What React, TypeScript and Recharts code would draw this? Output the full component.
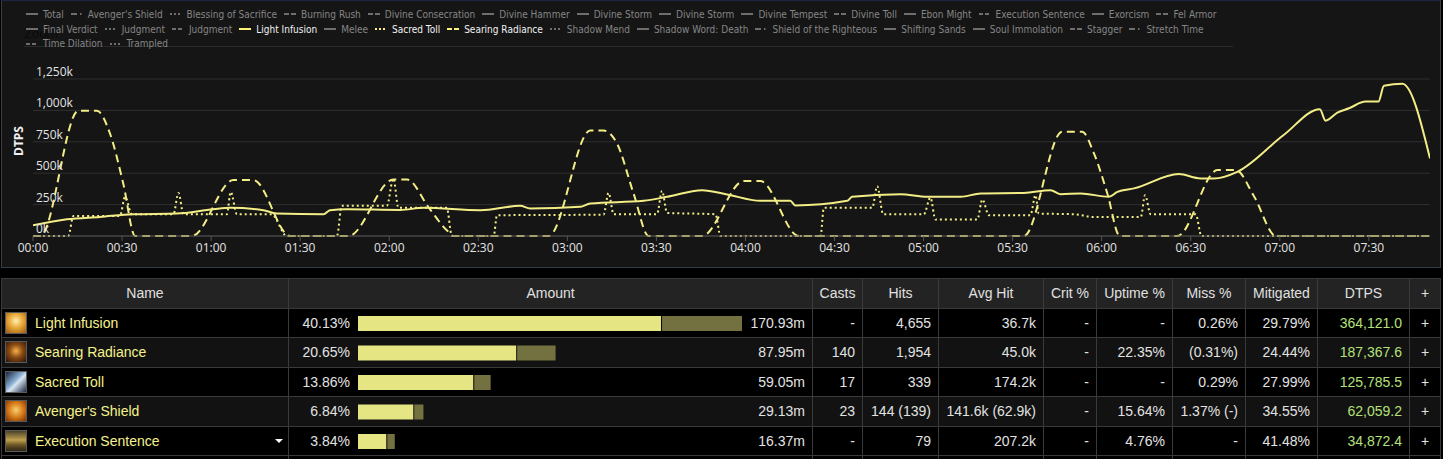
import React from "react";
import { LineChart, Line, XAxis, YAxis, CartesianGrid, BarChart, Bar } from "recharts";

type Pt = [number, number];

// time (s), DTPS (k)
const lightInfusion: Pt[] = [
  [0, 85], [11.4, 133], [22.6, 152], [33.7, 173], [48.4, 179], [60.7, 213], [66.4, 224],
  [77.6, 205], [82, 179], [97.9, 173], [100, 205], [105.7, 213], [123.7, 208], [131.6, 224],
  [150.7, 205], [164.1, 240], [167.5, 219], [184.4, 232], [187.7, 259], [205.7, 280],
  [213.6, 312], [225.4, 365], [233.8, 331], [245, 280], [255.1, 280], [256.8, 243],
  [274.3, 280], [275.9, 312], [292.2, 333], [301.2, 312], [312.5, 312], [319.2, 339],
  [333.8, 343], [342.8, 365], [346.1, 333], [352.9, 339], [362.4, 312], [365.3, 351],
  [370.9, 379], [386, 493], [393.3, 458], [397.8, 458], [405.7, 511], [421.3, 804],
  [433.5, 1010], [435.4, 918], [439.4, 982], [443.3, 1017], [448.9, 1070], [453.2, 1070],
  [455.1, 1196], [461.3, 1212], [470.6, 618],
];

const searingRadiance: Pt[] = [
  [0, 0], [2.5, 0], [15.3, 998], [21.5, 998], [25.9, 818], [30.4, 418], [34.4, 0],
  [53.5, 0], [67.5, 445], [74.3, 445], [86.6, 0],
  [106.3, 0], [121.4, 450], [126, 450], [133.5, 220], [139.4, 45], [141.7, 0],
  [173.7, 0], [187.7, 839], [192.2, 839], [196.7, 738], [202.3, 339], [207.4, 0],
  [225.4, 0], [239.4, 437], [245, 437], [258, 0],
  [333.8, 0], [346.7, 831], [353.4, 831], [357.4, 658], [361.9, 339], [366.1, 0],
  [385.5, 0], [399, 525], [405.2, 525], [411.4, 312], [418.7, 0], [470.6, 0],
];

const sacredToll: Pt[] = [
  [0, 0], [11.9, 0], [13.6, 160], [29.3, 160], [31, 312], [33.3, 173], [47.3, 173],
  [49, 343], [50.7, 173], [65.3, 173], [66.6, 351], [68.7, 173], [80.4, 173], [85.5, 0],
  [102.4, 0], [104, 240], [119.2, 240], [121.4, 458], [123.1, 224], [139.4, 224], [141.1, 0],
  [155.2, 0], [156.3, 165], [192.2, 170], [193.9, 343], [195.6, 173], [210.2, 173],
  [211.9, 359], [213.6, 184], [229.9, 173], [231.6, 0], [265.3, 0], [266.4, 224],
  [282.7, 224], [284.4, 397], [286.4, 173], [300.1, 173], [302.3, 306], [304, 131],
  [318.1, 131], [319.8, 291], [322, 165], [336, 165], [337.7, 325], [338.8, 179],
  [351, 173], [356.9, 152], [373.2, 152], [374.6, 325], [376.5, 173], [391.7, 173],
  [393.6, 0], [470.6, 0],
];

const fightEnd = 470.6;
const timeTicks = [0, 30, 60, 90, 120, 150, 180, 210, 240, 270, 300, 330, 360, 390, 420, 450];
const dtpsTicks = [0, 250, 500, 750, 1000, 1250];

// legend: [name, line style, shown]
const legendRow1: [string, string, boolean][] = [
  ["Total", "solid", false], ["Avenger's Shield", "dashdot", false],
  ["Blessing of Sacrifice", "dot", false], ["Burning Rush", "dash", false],
  ["Divine Consecration", "dash", false], ["Divine Hammer", "solid", false],
  ["Divine Storm", "solid", false], ["Divine Storm", "solid", false],
  ["Divine Tempest", "solid", false], ["Divine Toll", "dash", false],
  ["Ebon Might", "solid", false], ["Execution Sentence", "dashdotdot", false],
  ["Exorcism", "solid", false], ["Fel Armor", "dash", false],
];
const legendRow2: [string, string, boolean][] = [
  ["Final Verdict", "solid", false], ["Judgment", "dot", false],
  ["Judgment", "dashdotdot", false], ["Light Infusion", "solid", true],
  ["Melee", "solid", false], ["Sacred Toll", "dot", true],
  ["Searing Radiance", "dash", true], ["Shadow Mend", "dot", false],
  ["Shadow Word: Death", "solid", false], ["Shield of the Righteous", "dashdot", false],
  ["Shifting Sands", "solid", false], ["Soul Immolation", "solid", false],
  ["Stagger", "dash", false], ["Stretch Time", "dashdot", false],
];
const legendRow3: [string, string, boolean][] = [
  ["Time Dilation", "dashdotdot", false], ["Trampled", "dot", false],
];

// table
const headers = ["Name", "Amount", "Casts", "Hits", "Avg Hit", "Crit %", "Uptime %", "Miss %", "Mitigated", "DTPS", "+"];
const abilityNames = ["Light Infusion", "Searing Radiance", "Sacred Toll", "Avenger's Shield", "Execution Sentence"];
const amountPct = ["40.13%", "20.65%", "13.86%", "6.84%", "3.84%"];
const amountTotal = [170.93, 87.95, 59.05, 29.13, 16.37];
const amountSolid = [134.9, 70.4, 51.3, 24.6, 12.6];
const casts = ["-", "140", "17", "23", "-"];
const hits = ["4,655", "1,954", "339", "144 (139)", "79"];
const avgHit = ["36.7k", "45.0k", "174.2k", "141.6k (62.9k)", "207.2k"];
const critPct = ["-", "-", "-", "-", "-"];
const uptimePct = ["-", "22.35%", "-", "15.64%", "4.76%"];
const missPct = ["0.26%", "(0.31%)", "0.29%", "1.37% (-)", "-"];
const mitigatedPct = ["29.79%", "24.44%", "27.99%", "34.55%", "41.48%"];
const dtps = [364121.0, 187367.6, 125785.5, 62059.2, 34872.4];

const LINE = "#f3ed86";
const colWidths = [287, 524, 50, 76, 105, 53, 76, 73, 72, 92, 31];

const icons = [
  "radial-gradient(circle at 50% 40%, #fff0b0 0%, #e8a838 45%, #9a5a12 100%)",
  "radial-gradient(circle at 50% 45%, #f6b048 0%, #8a4a14 45%, #2a1406 100%)",
  "linear-gradient(135deg, #15233a 0%, #8fb4d8 45%, #d8e4f0 55%, #1a2a44 100%)",
  "radial-gradient(circle at 50% 45%, #f8d070 0%, #d67a18 50%, #7a2e04 100%)",
  "linear-gradient(180deg, #4a4226 0%, #c0a050 45%, #6a5624 70%, #2a2414 100%)",
];

const dashes: Record<string, string | undefined> = {
  solid: undefined,
  dot: "2,2",
  dash: "5,2",
  dashdot: "6,3,1.5,3",
  dashdotdot: "4,2,4,2,1.5,2",
};

const toRows = (pts: Pt[]) => pts.map(([t, v]) => ({ t, v }));
const clock = (s: number) =>
  `${String(Math.floor(s / 60)).padStart(2, "0")}:${String(s % 60).padStart(2, "0")}`;

const YTick = (props: any) => {
  const { y, payload } = props;
  return (
    <text x={36} y={y - 3} fill="#e4e4e4" fontSize={12} fontFamily="Open Sans">
      {`${payload.value.toLocaleString("en-US")}k`}
    </text>
  );
};

const legendFont = "'Liberation Sans Narrow', 'Arial Narrow', 'DejaVu Sans Condensed', sans-serif";

const LegendRow = ({ items }: { items: [string, string, boolean][] }) => (
  <div style={{ display: "flex", height: 14.7, alignItems: "center", whiteSpace: "nowrap" }}>
    {items.map(([name, style, shown], i) => (
      <div key={i} style={{ display: "flex", alignItems: "center", marginRight: 7 }}>
        <svg width={12} height={4} style={{ marginRight: 5 }}>
          <line x1={0} y1={2} x2={12} y2={2} stroke={shown ? "#fff27a" : "#6e6e6e"} strokeWidth={2} strokeDasharray={dashes[style]} />
        </svg>
        <span style={{ color: shown ? "#f2f2f2" : "#858585", fontSize: 10, fontFamily: legendFont }}>{name}</span>
      </div>
    ))}
  </div>
);

const cell: React.CSSProperties = {
  boxSizing: "border-box",
  borderRight: "1px solid #3a3a3a",
  borderBottom: "1px solid #3a3a3a",
  display: "flex",
  alignItems: "center",
  justifyContent: "flex-end",
  paddingRight: 7,
  position: "relative",
  whiteSpace: "nowrap",
};

const DarkShape = (p: any) => (
  <rect x={p.x + 1} y={p.y} width={Math.max(0, p.width - 1)} height={p.height} fill="#72713f" />
);

export default function App() {
  const barData = abilityNames.map((name, i) => ({
    name,
    solid: amountSolid[i],
    rest: +(amountTotal[i] - amountSolid[i]).toFixed(2),
  }));
  const rowBg = (i: number) => (i % 2 === 1 ? "#121212" : "#000");
  const rows = abilityNames.map((name, i) => [
    name, amountPct[i], casts[i], hits[i], avgHit[i], critPct[i], uptimePct[i], missPct[i],
    mitigatedPct[i], dtps[i].toLocaleString("en-US", { minimumFractionDigits: 1 }), "+",
  ]);

  return (
    <div style={{ position: "relative", width: 1443, height: 459, background: "#000", overflow: "hidden", fontFamily: "'Liberation Sans', Arial, sans-serif" }}>
      <style>{"body{margin:0;background:#000}"}</style>

      {/* chart box */}
      <div style={{ position: "absolute", left: 1, top: 0, width: 1440, height: 268, boxSizing: "border-box", background: "#151515", border: "1px solid #3d3d3d", borderTopColor: "#1d2543", borderBottomColor: "#2c3f4e" }} />
      <div style={{ position: "absolute", left: 24, top: 46, width: 1209, height: 1, background: "#2a2a2a" }} />
      <div style={{ position: "absolute", left: 24, top: 26, fontSize: 13, color: "#0b0b0b", fontFamily: legendFont }}>Zoom</div>
      <div style={{ position: "absolute", left: 26, top: 7 }}>
        <LegendRow items={legendRow1} />
        <LegendRow items={legendRow2} />
        <LegendRow items={legendRow3} />
      </div>
      <div style={{ position: "absolute", left: 17.5, top: 141, transform: "translate(-50%,-50%) rotate(-90deg)", color: "#f0f0f0", fontWeight: "bold", fontSize: 12, fontFamily: "Open Sans" }}>DTPS</div>

      <div style={{ position: "absolute", left: 0, top: 0 }}>
        <LineChart width={1443} height={267} margin={{ top: 79, right: 13, bottom: 7, left: 32 }}>
          <CartesianGrid vertical={false} stroke="#2f2f2f" />
          <XAxis
            type="number"
            dataKey="t"
            domain={[0, fightEnd]}
            ticks={timeTicks}
            tickFormatter={clock}
            allowDataOverflow
            height={24}
            stroke="#555"
            tickSize={5}
            tick={{ fill: "#e4e4e4", fontSize: 12, fontFamily: "Open Sans" }}
          />
          <YAxis type="number" domain={[0, 1250]} ticks={dtpsTicks} width={1} axisLine={false} tickLine={false} tick={YTick} interval={0} />
          <Line data={toRows(searingRadiance)} dataKey="v" type="monotone" stroke={LINE} strokeWidth={2} strokeDasharray="8,5" dot={false} activeDot={false} isAnimationActive={false} />
          <Line data={toRows(sacredToll)} dataKey="v" type="monotone" stroke={LINE} strokeWidth={2} strokeDasharray="2,3" dot={false} activeDot={false} isAnimationActive={false} />
          <Line data={toRows(lightInfusion)} dataKey="v" type="monotone" stroke={LINE} strokeWidth={2} dot={false} activeDot={false} isAnimationActive={false} />
        </LineChart>
      </div>

      {/* table */}
      <div style={{ position: "absolute", left: 1, top: 278, borderLeft: "1px solid #3a3a3a", borderTop: "1px solid #3a3a3a", display: "grid", gridTemplateColumns: colWidths.map((w) => `${w}px`).join(" "), gridTemplateRows: "29.5px repeat(5, 29.5px) 20px", fontSize: 14, color: "#e2e2e2" }}>
        {headers.map((h, c) => (
          <div key={`h${c}`} style={{ ...cell, background: "#232323", justifyContent: "center", paddingRight: 0, color: "#e0e0e0" }}>{h}</div>
        ))}
        {rows.map((r, i) =>
          r.map((v, c) => {
            if (c === 0) {
              return (
                <div key={`${i}-${c}`} style={{ ...cell, background: rowBg(i), justifyContent: "flex-start", paddingRight: 0 }}>
                  <div style={{ width: 22, height: 22, marginLeft: 3, boxSizing: "border-box", border: "1px solid #5a5a5a", background: icons[i] }} />
                  <span style={{ marginLeft: 8, color: "#f6f28c" }}>{v}</span>
                  {i === 4 && (
                    <div style={{ position: "absolute", left: 273, top: 12, width: 0, height: 0, borderLeft: "4.5px solid transparent", borderRight: "4.5px solid transparent", borderTop: "4px solid #fff" }} />
                  )}
                </div>
              );
            }
            if (c === 1) {
              return (
                <div key={`${i}-${c}`} style={{ ...cell, background: rowBg(i) }}>
                  <span style={{ position: "absolute", left: 0, width: 61, textAlign: "right" }}>{v}</span>
                  <span>{`${amountTotal[i].toFixed(2)}m`}</span>
                </div>
              );
            }
            const color = c === 9 ? "#b5e07a" : "#e2e2e2";
            return (
              <div key={`${i}-${c}`} style={{ ...cell, background: rowBg(i), color, justifyContent: c === 10 ? "center" : "flex-end", paddingRight: c === 10 ? 0 : 7 }}>{v}</div>
            );
          })
        )}
        {headers.map((h, c) => (
          <div key={`f${c}`} style={{ ...cell, borderBottom: "none", background: "#000" }} />
        ))}
      </div>

      <div style={{ position: "absolute", left: 358, top: 308.5 }}>
        <BarChart width={384} height={147.5} data={barData} layout="vertical" margin={{ top: 0, right: 0, bottom: 0, left: 0 }} barSize={15}>
          <XAxis type="number" hide domain={[0, amountTotal[0]]} />
          <YAxis type="category" dataKey="name" hide />
          <Bar dataKey="solid" stackId="a" fill="#e6e584" isAnimationActive={false} />
          <Bar dataKey="rest" stackId="a" fill="#72713f" shape={DarkShape} isAnimationActive={false} />
        </BarChart>
      </div>
    </div>
  );
}
